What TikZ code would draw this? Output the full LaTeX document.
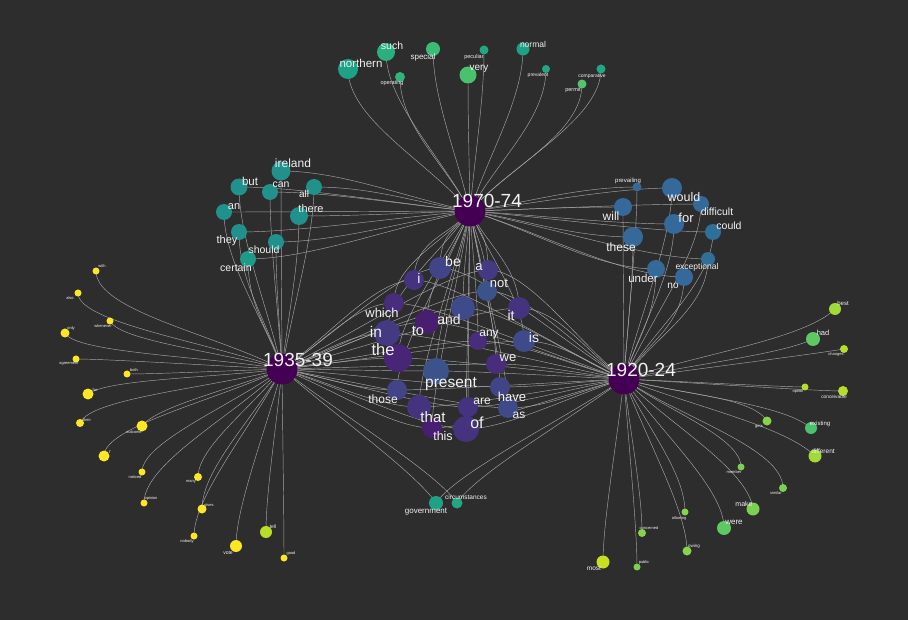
\documentclass[tikz,border=0pt]{standalone}
\usepackage{fontspec}
\setmainfont{Liberation Sans}
\usetikzlibrary{calc}
\pgfdeclarelayer{back}
\pgfdeclarelayer{front}
\pgfsetlayers{back,main,front}

\definecolor{bgc}{HTML}{2D2D2D}
\definecolor{edgegray}{HTML}{A6A6A6}
\definecolor{vA}{HTML}{440154}
\definecolor{vB}{HTML}{481F70}
\definecolor{vC}{HTML}{482576}
\definecolor{vD}{HTML}{472D7B}
\definecolor{vE}{HTML}{46337F}
\definecolor{vF}{HTML}{443A83}
\definecolor{vG}{HTML}{414487}
\definecolor{vH}{HTML}{3E4A89}
\definecolor{vI}{HTML}{3B528B}
\definecolor{bl}{HTML}{35699A}
\definecolor{bl2}{HTML}{2F6F98}
\definecolor{tl}{HTML}{21918C}
\definecolor{tl2}{HTML}{1F9A8A}
\definecolor{tg1}{HTML}{1FA187}
\definecolor{tg2}{HTML}{2AB07F}
\definecolor{tg3}{HTML}{3BBB75}
\definecolor{tg4}{HTML}{4AC16D}
\definecolor{tg5}{HTML}{2FB47C}
\definecolor{tg6}{HTML}{22A785}
\definecolor{tg7}{HTML}{54C568}
\definecolor{g1}{HTML}{5EC962}
\definecolor{g1b}{HTML}{4AC16D}
\definecolor{g2}{HTML}{7AD151}
\definecolor{g3}{HTML}{A0DA39}
\definecolor{g4}{HTML}{B5DE2B}
\definecolor{g5}{HTML}{C8E020}
\definecolor{g6}{HTML}{86D549}
\definecolor{y1}{HTML}{FDE725}
\definecolor{y3}{HTML}{B8DE29}
\definecolor{lbltext}{HTML}{F2F2F2}

\tikzset{
  dot/.style={circle, inner sep=0pt, draw=none},
  hub/.style={dot, fill=vA, minimum size=31pt},
  hublbl/.style={text=lbltext, inner sep=0pt, font=\fontsize{19}{19}\selectfont},
  lbl/.style={text=lbltext, inner sep=0pt},
  edge/.style={draw=edgegray, line width=0.45pt}
}

% word node: name, x, y, diameter, colour, text, label x, label y, font size
\newcommand{\wnode}[9]{%
  \node[dot, fill=#5, minimum size=#4pt] (#1) at (#2,#3) {};
  \begin{pgfonlayer}{front}
    \node[lbl, font=\fontsize{#9}{#9}\selectfont] (#1-t) at (#7,#8) {#6};
  \end{pgfonlayer}}
\newcommand{\wlink}[3]{\draw[edge] (#1.center) .. controls +(#3) and ($(#2)!0.35!(#1)$) .. (#2.center);}

\begin{document}
\begin{tikzpicture}[x=1pt, y=-1pt]

        \node[hub] (h70) at (470,211) {};
        \node[hub] (h35) at (282,369) {};
        \node[hub] (h20) at (624,379) {};
        \begin{pgfonlayer}{front}
        \node[hublbl] (h70-t) at (487,201) {1970-74};
        \node[hublbl] (h35-t) at (298,360) {1935-39};
        \node[hublbl] (h20-t) at (641,370) {1920-24};
        \end{pgfonlayer}

        % top
        \wnode{northern}{348}{69}{20}{tg1}{northern}{361}{63}{11.5}
        \wnode{such}{386}{52}{18}{tg2}{such}{392}{46}{10.5}
        \wnode{operating}{400}{77}{10}{tg5}{operating}{392}{83}{5.5}
        \wnode{special}{433}{49}{14}{tg3}{special}{423}{57}{8}
        \wnode{peculiar}{484}{50}{9}{tg6}{peculiar}{474}{57}{5.5}
        \wnode{very}{468}{75}{17}{tg4}{very}{479}{69}{10}
        \wnode{normal}{523}{49}{13}{tg1}{normal}{533}{44}{8.5}
        \wnode{prevalent}{546}{69}{8}{tg6}{prevalent}{538}{75}{5}
        \wnode{permit}{582}{84}{9}{tg7}{permit}{573}{90}{5.5}
        \wnode{comparative}{601}{69}{9}{tg6}{comparative}{592}{76}{5}

        % upper left
        \wnode{ireland}{281}{171}{19}{tl}{ireland}{293}{163}{12}
        \wnode{but}{239}{187}{17}{tl}{but}{250}{181}{11.5}
        \wnode{can}{270}{192}{16}{tl}{can}{281}{185}{10.5}
        \wnode{all}{314}{187}{16}{tl}{all}{304}{194}{10}
        \wnode{an}{224}{212}{16}{tl}{an}{234}{207}{11}
        \wnode{there}{299}{216}{18}{tl}{there}{311}{209}{11}
        \wnode{they}{239}{232}{16}{tl}{they}{227}{241}{11}
        \wnode{should}{276}{242}{16}{tl}{should}{264}{250}{10.5}
        \wnode{certain}{248}{259}{16}{tl2}{certain}{236}{268}{10.5}

        % upper right
        \wnode{prevailing}{637}{187}{9}{bl}{prevailing}{628}{181}{6}
        \wnode{would}{672}{188}{20}{bl}{would}{684}{197}{12.5}
        \wnode{will}{623}{207}{18}{bl}{will}{611}{216}{12}
        \wnode{difficult}{701}{204}{16}{bl}{difficult}{717}{212}{10.5}
        \wnode{for}{674}{224}{20}{bl}{for}{686}{218}{13}
        \wnode{could}{713}{232}{16}{bl2}{could}{729}{226}{10.5}
        \wnode{these}{633}{237}{20}{bl}{these}{621}{247}{12}
        \wnode{exceptional}{708}{259}{14}{bl2}{exceptional}{697}{267}{8.5}
        \wnode{under}{656}{269}{18}{bl}{under}{643}{278}{11.5}
        \wnode{no}{684}{277}{18}{bl}{no}{673}{286}{10}

        % middle
        \wnode{i}{414}{280}{20}{vE}{i}{419}{278}{14}
        \wnode{be}{440}{268}{22}{vG}{be}{453}{261}{14}
        \wnode{a}{488}{270}{20}{vF}{a}{479}{267}{13}
        \wnode{not}{487}{291}{20}{vI}{not}{499}{283}{13}
        \wnode{which}{394}{303}{20}{vD}{which}{382}{313}{13}
        \wnode{it}{519}{308}{22}{vE}{it}{511}{315}{14}
        \wnode{and}{463}{308}{24}{vH}{and}{449}{319}{14}
        \wnode{to}{427}{322}{24}{vB}{to}{418}{331}{14.5}
        \wnode{in}{387}{333}{26}{vF}{in}{376}{332}{15.5}
        \wnode{any}{478}{341}{18}{vD}{any}{489}{335}{12}
        \wnode{is}{524}{341}{22}{vH}{is}{534}{337}{14}
        \wnode{the}{398}{358}{28}{vC}{the}{383}{350}{16.5}
        \wnode{we}{496}{364}{20}{vD}{we}{508}{358}{13}
        \wnode{present}{436}{371}{26}{vI}{present}{451}{384}{15.5}
        \wnode{those}{397}{390}{20}{vG}{those}{383}{399}{12}
        \wnode{have}{500}{387}{20}{vG}{have}{512}{397}{13}
        \wnode{that}{419}{407}{24}{vE}{that}{433}{417}{15}
        \wnode{are}{468}{407}{20}{vE}{are}{482}{401}{12}
        \wnode{as}{508}{408}{20}{vH}{as}{519}{415}{12}
        \wnode{this}{432}{428}{20}{vB}{this}{443}{436}{12.5}
        \wnode{of}{466}{429}{26}{vE}{of}{477}{423}{16}

        % left
        \wnode{with}{96}{271}{7}{y1}{with}{102}{266}{4}
        \wnode{also}{78}{293}{7}{y1}{also}{70}{298}{4}
        \wnode{whenever}{110}{321}{7}{y1}{whenever}{103}{326}{4}
        \wnode{only}{65}{333}{9}{y1}{only}{71}{328}{4}
        \wnode{agreement}{76}{359}{7}{y1}{agreement}{69}{364}{4}
        \wnode{both}{127}{374}{7}{y1}{both}{134}{370}{4}
        \wnode{far}{88}{394}{11}{y1}{far}{95}{390}{4}
        \wnode{their}{80}{423}{8}{y1}{their}{87}{420}{4}
        \wnode{outcome}{142}{426}{11}{y1}{outcome}{134}{432}{4}
        \wnode{r}{104}{456}{11}{y1}{r}{110}{452}{5}
        \wnode{noticed}{142}{472}{7}{y1}{noticed}{135}{477}{4}
        \wnode{many}{198}{477}{8}{y1}{many}{191}{482}{4}
        \wnode{opinion}{144}{503}{7}{y1}{opinion}{151}{498}{4}
        \wnode{gives}{202}{509}{9}{y1}{gives}{209}{505}{4}
        \wnode{nobody}{194}{536}{7}{y1}{nobody}{187}{541}{4}
        \wnode{vote}{236}{546}{12}{y1}{vote}{228}{553}{5}
        \wnode{tell}{266}{532}{12}{y3}{tell}{273}{527}{5}
        \wnode{good}{284}{558}{7}{y1}{good}{291}{553}{4}

        % right
        \wnode{best}{835}{309}{12}{g3}{best}{843}{303}{6}
        \wnode{had}{813}{339}{14}{g1}{had}{823}{333}{7.5}
        \wnode{changes}{844}{349}{8}{g4}{changes}{836}{354}{4}
        \wnode{option}{805}{387}{7}{g4}{option}{798}{391}{4}
        \wnode{conceivable}{843}{391}{10}{g4}{conceivable}{834}{397}{4.8}
        \wnode{existing}{811}{428}{12}{g1b}{existing}{820}{424}{6}
        \wnode{different}{815}{456}{13}{g3}{different}{823}{451}{6.5}
        \wnode{gets}{767}{421}{9}{g6}{gets}{759}{427}{4}
        \wnode{member}{741}{467}{7}{g2}{member}{734}{472}{4}
        \wnode{similar}{783}{488}{8}{g2}{similar}{776}{493}{4}
        \wnode{make}{753}{509}{13}{g2}{make}{744}{504}{7}
        \wnode{were}{724}{528}{14}{g1}{were}{734}{522}{8}
        \wnode{allowing}{685}{512}{7}{g6}{allowing}{679}{518}{4}
        \wnode{owing}{687}{551}{9}{g6}{owing}{694}{546}{4.5}
        \wnode{concerned}{642}{533}{8}{g6}{concerned}{649}{528}{4}
        \wnode{most}{603}{562}{13}{g5}{most}{594}{568}{6.5}
        \wnode{public}{637}{567}{7}{g2}{public}{644}{562}{4}

        % bottom
        \wnode{government}{436}{503}{14}{tg1}{government}{426}{512}{8}
        \wnode{circumstances}{457}{503}{11}{tg6}{circumstances}{466}{497}{6.5}

        \begin{pgfonlayer}{back}
        \fill[bgc] (0,0) rectangle (908,620);

        \wlink{northern}{h70}{0,50} \wlink{such}{h70}{0,50} \wlink{operating}{h70}{0,50}
        \wlink{special}{h70}{0,50} \wlink{peculiar}{h70}{0,50} \wlink{very}{h70}{0,50}
        \wlink{normal}{h70}{0,50} \wlink{prevalent}{h70}{0,50} \wlink{permit}{h70}{0,50}
        \wlink{comparative}{h70}{0,50}

        \wlink{ireland}{h70}{60,0} \wlink{ireland}{h35}{0,50}
        \wlink{but}{h70}{60,0} \wlink{but}{h35}{0,50}
        \wlink{can}{h70}{60,0} \wlink{can}{h35}{0,50}
        \wlink{all}{h70}{60,0} \wlink{all}{h35}{0,50}
        \wlink{an}{h70}{60,0} \wlink{an}{h35}{0,50}
        \wlink{there}{h70}{60,0} \wlink{there}{h35}{0,50}
        \wlink{they}{h70}{60,0} \wlink{they}{h35}{0,50}
        \wlink{should}{h70}{60,0} \wlink{should}{h35}{0,50}
        \wlink{certain}{h70}{60,0} \wlink{certain}{h35}{0,50}

        \wlink{prevailing}{h70}{-60,0} \wlink{prevailing}{h20}{0,50}
        \wlink{would}{h70}{-60,0} \wlink{would}{h20}{0,50}
        \wlink{will}{h70}{-60,0} \wlink{will}{h20}{0,50}
        \wlink{difficult}{h70}{-60,0} \wlink{difficult}{h20}{0,50}
        \wlink{for}{h70}{-60,0} \wlink{for}{h20}{0,50}
        \wlink{could}{h70}{-60,0} \wlink{could}{h20}{0,50}
        \wlink{these}{h70}{-60,0} \wlink{these}{h20}{0,50}
        \wlink{exceptional}{h70}{-60,0} \wlink{exceptional}{h20}{0,50}
        \wlink{under}{h70}{-60,0} \wlink{under}{h20}{0,50}
        \wlink{no}{h70}{-60,0} \wlink{no}{h20}{0,50}

        \wlink{i}{h70}{0,-40} \wlink{i}{h35}{-40,0} \wlink{i}{h20}{40,0}
        \wlink{be}{h70}{0,-40} \wlink{be}{h35}{-40,0} \wlink{be}{h20}{40,0}
        \wlink{a}{h70}{0,-40} \wlink{a}{h35}{-40,0} \wlink{a}{h20}{40,0}
        \wlink{not}{h70}{0,-40} \wlink{not}{h35}{-40,0} \wlink{not}{h20}{40,0}
        \wlink{which}{h70}{0,-40} \wlink{which}{h35}{-40,0} \wlink{which}{h20}{40,0}
        \wlink{it}{h70}{0,-40} \wlink{it}{h35}{-40,0} \wlink{it}{h20}{40,0}
        \wlink{and}{h70}{0,-40} \wlink{and}{h35}{-40,0} \wlink{and}{h20}{40,0}
        \wlink{to}{h70}{0,-40} \wlink{to}{h35}{-40,0} \wlink{to}{h20}{40,0}
        \wlink{in}{h70}{0,-40} \wlink{in}{h35}{-40,0} \wlink{in}{h20}{40,0}
        \wlink{any}{h70}{0,-40} \wlink{any}{h35}{-40,0} \wlink{any}{h20}{40,0}
        \wlink{is}{h70}{0,-40} \wlink{is}{h35}{-40,0} \wlink{is}{h20}{40,0}
        \wlink{the}{h70}{0,-40} \wlink{the}{h35}{-40,0} \wlink{the}{h20}{40,0}
        \wlink{we}{h70}{0,-40} \wlink{we}{h35}{-40,0} \wlink{we}{h20}{40,0}
        \wlink{present}{h70}{0,-40} \wlink{present}{h35}{-40,0} \wlink{present}{h20}{40,0}
        \wlink{those}{h70}{0,-40} \wlink{those}{h35}{-40,0} \wlink{those}{h20}{40,0}
        \wlink{have}{h70}{0,-40} \wlink{have}{h35}{-40,0} \wlink{have}{h20}{40,0}
        \wlink{that}{h70}{0,-40} \wlink{that}{h35}{-40,0} \wlink{that}{h20}{40,0}
        \wlink{are}{h70}{0,-40} \wlink{are}{h35}{-40,0} \wlink{are}{h20}{40,0}
        \wlink{as}{h70}{0,-40} \wlink{as}{h35}{-40,0} \wlink{as}{h20}{40,0}
        \wlink{this}{h70}{0,-40} \wlink{this}{h35}{-40,0} \wlink{this}{h20}{40,0}
        \wlink{of}{h70}{0,-40} \wlink{of}{h35}{-40,0} \wlink{of}{h20}{40,0}

        \wlink{with}{h35}{0,40}
        \wlink{also}{h35}{0,30}
        \wlink{whenever}{h35}{10,20}
        \wlink{only}{h35}{10,20}
        \wlink{agreement}{h35}{30,0}
        \wlink{both}{h35}{30,0}
        \wlink{far}{h35}{20,-15}
        \wlink{their}{h35}{10,-25}
        \wlink{outcome}{h35}{15,-20}
        \wlink{r}{h35}{0,-30}
        \wlink{noticed}{h35}{0,-30}
        \wlink{many}{h35}{0,-30}
        \wlink{opinion}{h35}{0,-40}
        \wlink{gives}{h35}{0,-40}
        \wlink{nobody}{h35}{0,-40}
        \wlink{vote}{h35}{0,-40}
        \wlink{tell}{h35}{0,-40}
        \wlink{good}{h35}{0,-40}

        \wlink{best}{h20}{-30,30}
        \wlink{had}{h20}{-30,15}
        \wlink{changes}{h20}{-30,5}
        \wlink{option}{h20}{-20,0}
        \wlink{conceivable}{h20}{-30,0}
        \wlink{existing}{h20}{-30,-25}
        \wlink{different}{h20}{-30,-30}
        \wlink{gets}{h20}{-15,-25}
        \wlink{member}{h20}{0,-30}
        \wlink{similar}{h20}{0,-40}
        \wlink{make}{h20}{-5,-40}
        \wlink{were}{h20}{0,-40}
        \wlink{allowing}{h20}{0,-40}
        \wlink{owing}{h20}{0,-40}
        \wlink{concerned}{h20}{0,-40}
        \wlink{most}{h20}{0,-40}
        \wlink{public}{h20}{0,-40}

        \wlink{government}{h35}{-20,-30} \wlink{government}{h20}{20,-30}
        \wlink{circumstances}{h35}{-20,-30} \wlink{circumstances}{h20}{20,-30}
        \end{pgfonlayer}
\end{tikzpicture}
\end{document}
